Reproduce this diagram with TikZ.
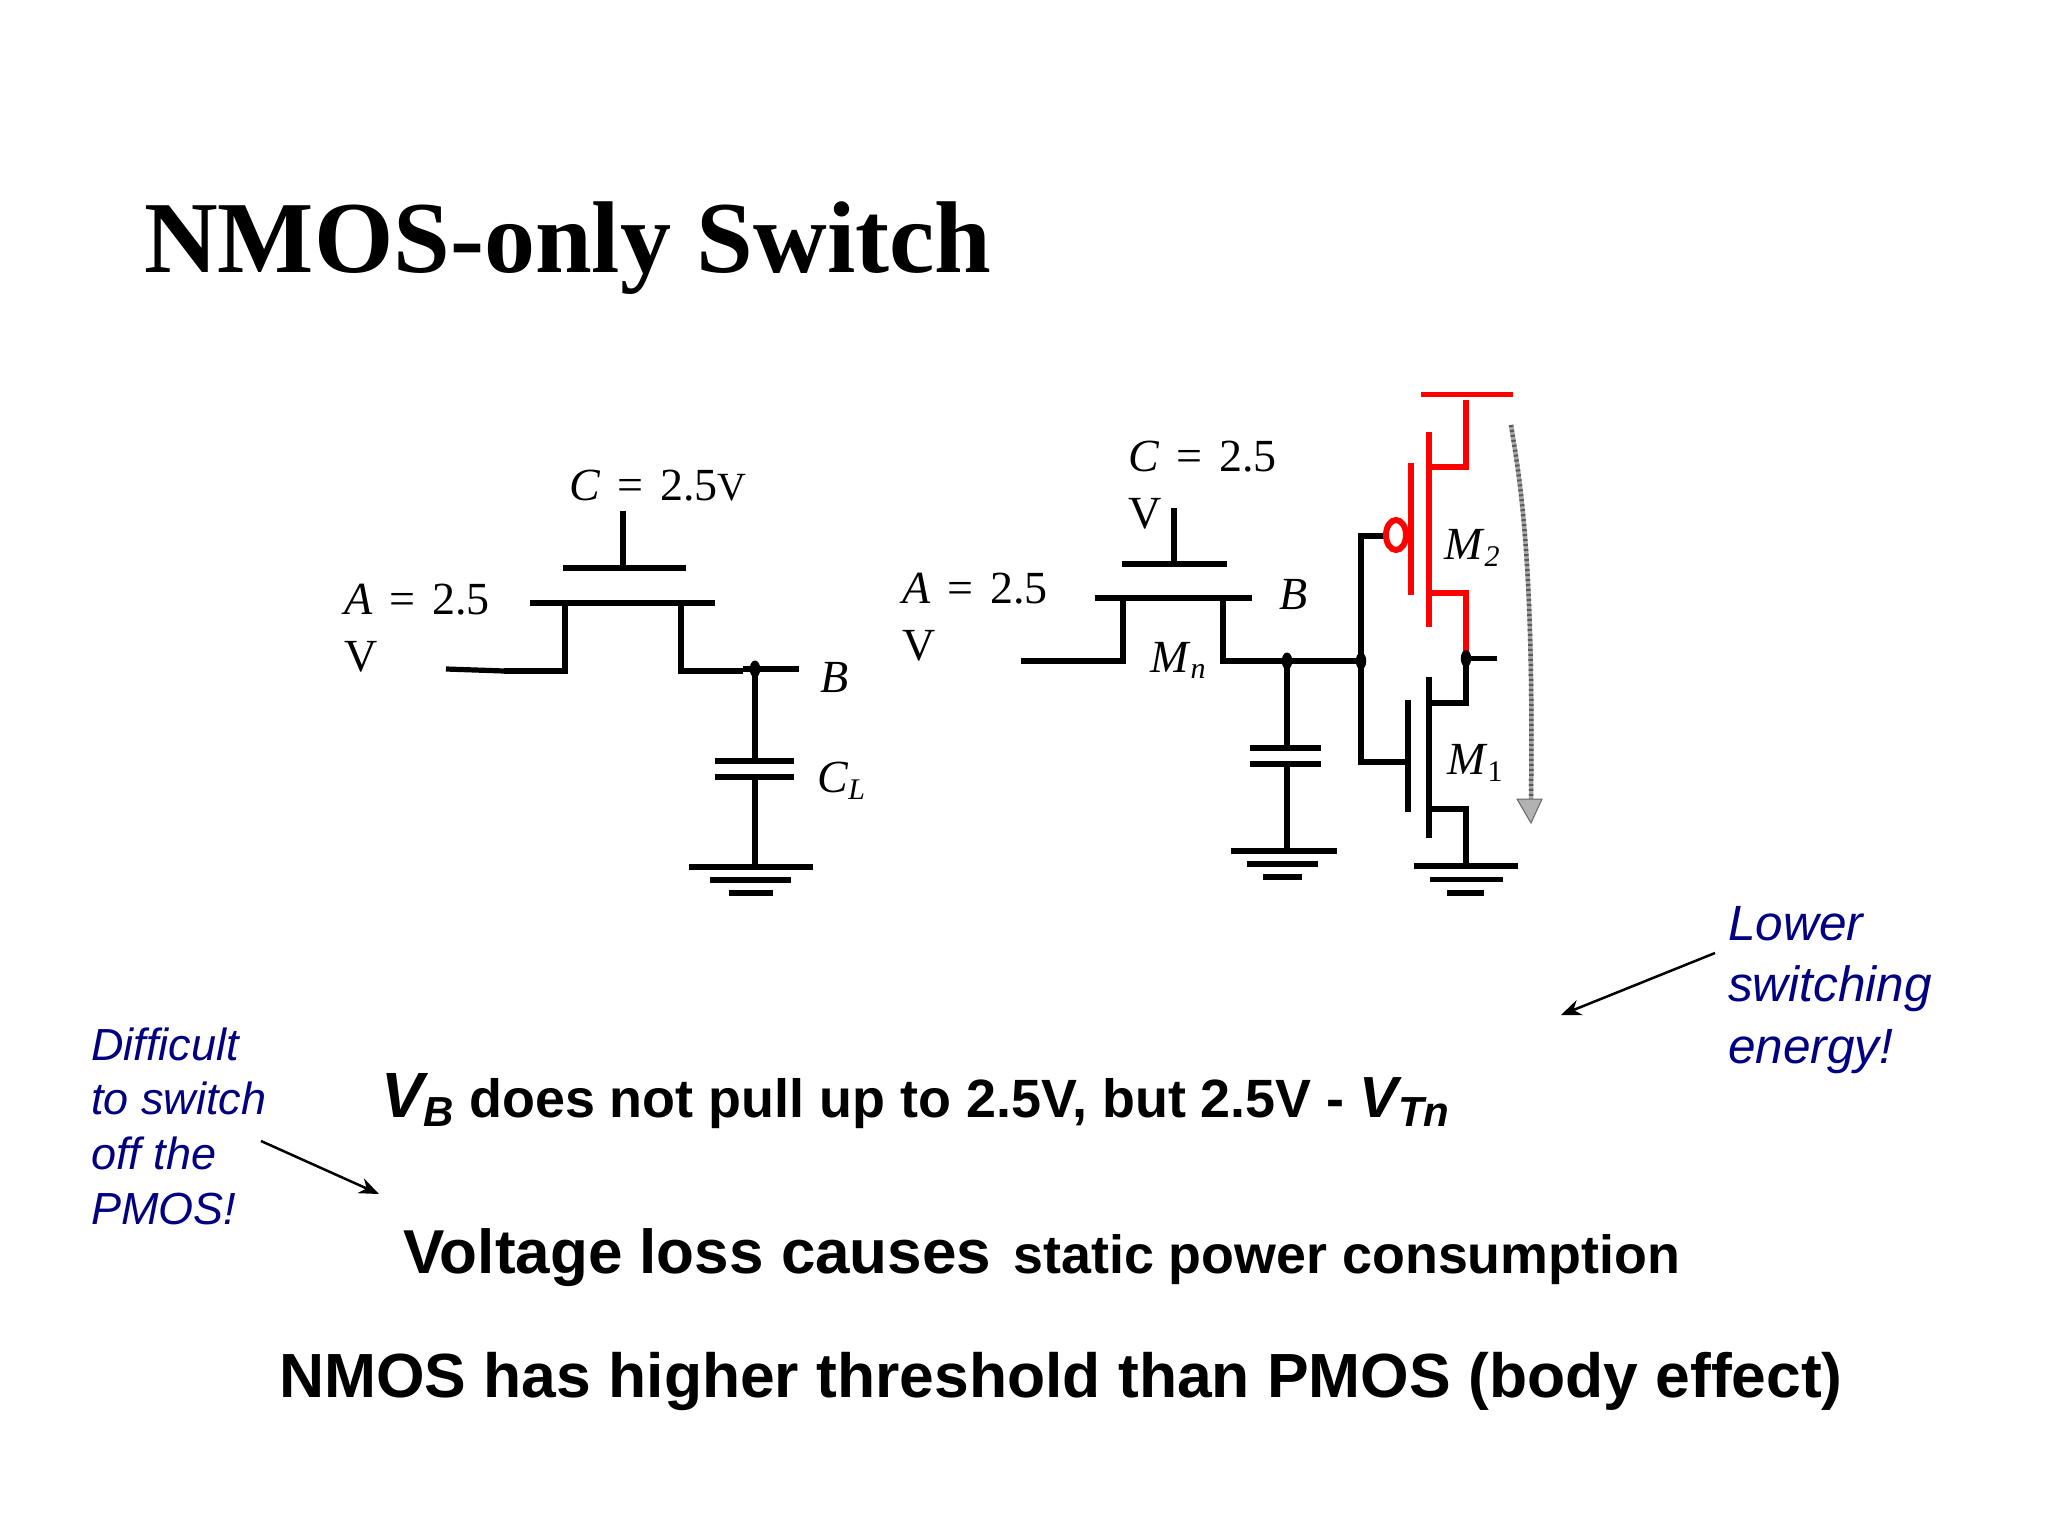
\documentclass[tikz,border=0pt]{standalone}
\usepackage{fontspec}
\setmainfont{Liberation Serif}
\setsansfont{Liberation Sans}
\usetikzlibrary{arrows.meta,shapes.geometric}
\definecolor{navyt}{RGB}{0,0,128}
\definecolor{redw}{RGB}{255,0,0}
\newcommand{\eqsp}{\hspace{17pt}=\hspace{17pt}}
\tikzset{
  wire/.style={line width=5.2pt,black,line cap=butt,line join=miter},
  rwire/.style={line width=5.6pt,redw,line cap=butt,line join=miter},
  lab/.style={inner sep=0pt,anchor=base west,font=\fontsize{46}{57}\selectfont,align=left},
  bold/.style={inner sep=0pt,anchor=base west,font=\sffamily\bfseries},
  note/.style={inner sep=0pt,anchor=base west,align=left,text=navyt,font=\sffamily\itshape},
  thinarrow/.style={line width=2.5pt,-{Stealth[length=20pt,width=16pt]}},
  dot/.style={ellipse,fill=black,inner sep=0pt,minimum width=10.5pt,minimum height=17pt},
}
\begin{document}
\begin{tikzpicture}[x=1pt,y=-1pt]
\useasboundingbox (0,0) rectangle (2048,1536);
\fill[white] (0,0) rectangle (2048,1536);
\node[inner sep=0pt,anchor=base west,font=\fontsize{102}{102}\selectfont\bfseries] (title) at (144,272.5) {NMOS-only Switch};

% left circuit
\coordinate (a1) at (446,669); \coordinate (a2) at (504,671); \coordinate (s1) at (565,671);
\coordinate (s2) at (565,603); \coordinate (d2) at (681,603); \coordinate (d1) at (681,671);
\coordinate (b1) at (743,671); \coordinate (b2) at (743,669); \coordinate (b3) at (799,669);
\coordinate (n1) at (755,669);
\draw[wire] (a1) -- (a2);
\draw[wire] (a2) -- (s1) -- (s2);
\draw[wire] (d2) -- (d1) -- (b1);
\draw[wire] (b2) -- (b3);
\draw[wire] (530,603) -- (715,603);
\draw[wire] (563,568) -- (686,568);
\draw[wire] (623,511) -- (623,568);
\node[dot] (nd1) at (n1) {};
\draw[wire] (n1) -- (755,761);
\draw[wire] (715,761) -- (794,761);
\draw[wire] (715,777) -- (794,777);
\draw[wire] (755,777) -- (755,867);
\draw[wire] (689,867) -- (813,867);
\draw[wire] (710,880) -- (791,880);
\draw[wire] (729,893) -- (773,893);
\node[lab] (lc1) at (569,500) {\textit{C}\eqsp 2.5{\fontsize{40}{40}\selectfont V}};
\node[lab] (la1) at (344,671) {\textit{A}\eqsp 2.5\\V};
\node[lab] (lb1) at (820,692) {\textit{B}};
\node[lab] (lcl) at (817,792) {\textit{C}\raisebox{-7pt}{\fontsize{30}{30}\selectfont\textit{L}}};

% right circuit
\coordinate (ra) at (1021,661); \coordinate (rs1) at (1123,661); \coordinate (rs2) at (1123,598);
\coordinate (rd2) at (1223,598); \coordinate (rd1) at (1223,661);
\coordinate (n2) at (1287,661); \coordinate (n3) at (1361,661); \coordinate (n4) at (1466,658.5);
\draw[wire] (ra) -- (rs1) -- (rs2);
\draw[wire] (rd2) -- (rd1) -- (n3);
\draw[wire] (1095,598) -- (1252,598);
\draw[wire] (1122,564) -- (1227,564);
\draw[wire] (1174,508) -- (1174,564);
\node[dot] (nd2) at (n2) {};
\node[dot] (nd3) at (n3) {};
\draw[wire] (n2) -- (1287,748);
\draw[wire] (1250,748) -- (1321,748);
\draw[wire] (1250,764) -- (1321,764);
\draw[wire] (1287,764) -- (1287,851);
\draw[wire] (1231,851) -- (1337,851);
\draw[wire] (1247,864) -- (1318,864);
\draw[wire] (1263,877) -- (1302,877);
% inverter
\draw[wire] (1387,536) -- (1361,536) -- (1361,762) -- (1408,762);
\draw[wire] (1408,700) -- (1408,812);
\draw[wire] (1429,677) -- (1429,838);
\draw[wire] (1429,703) -- (1466,703) -- (n4);
\draw[wire] (1429,809) -- (1466,809) -- (1466,866);
\draw[wire] (n4) -- (1497,658.5);
\draw[wire] (1413.5,866) -- (1518,866);
\draw[wire] (1430,879.5) -- (1503,879.5);
\draw[wire] (1447,893) -- (1484,893);
% pmos
\draw[rwire] (1421,394.5) -- (1513,394.5);
\draw[rwire] (1466,400) -- (1466,467) -- (1429,467);
\draw[rwire] (1429,432) -- (1429,627);
\draw[rwire] (1411,463) -- (1411,595);
\draw[rwire] (1429,593) -- (1466,593) -- (1466,656);
\draw[rwire,line width=6pt] (1396,535) ellipse (10pt and 15pt);
\node[dot] (nd4) at (n4) {};

% current arrow
\coordinate (ga) at (1511,425); \coordinate (gb) at (1531,800);
\draw[line width=4.5pt,gray!70] (ga) .. controls (1520,480) and (1534,560) .. (gb);
\draw[line width=4.5pt,black!65,dash pattern=on 2pt off 3pt] (ga) .. controls (1520,480) and (1534,560) .. (gb);
\fill[gray!60,draw=black!60,line width=1pt] (1517,799) -- (1542,799) -- (1531,823) -- cycle;

\node[lab] (lc2) at (1128,528) {\textit{C}\eqsp 2.5\\V};
\node[lab] (la2) at (902,660) {\textit{A}\eqsp 2.5\\V};
\node[lab] (lb2) at (1279,609) {\textit{B}};
\node[lab] (lmn) at (1150,672) {\textit{M}\raisebox{-6pt}{\fontsize{30}{30}\selectfont\textit{n}}};
\node[lab] (lm2) at (1444,559) {\textit{M}\raisebox{-7pt}{\fontsize{30}{30}\selectfont\textit{2}}};
\node[lab] (lm1) at (1447,774) {\textit{M}\raisebox{-7pt}{\fontsize{30}{30}\selectfont 1}};

% bottom text
\node[bold,font=\sffamily\bfseries\fontsize{53.9}{53.9}\selectfont] (t1) at (381,1117) {\textit{\fontsize{64}{64}\selectfont V\raisebox{-9pt}{\fontsize{42}{42}\selectfont B}} does not pull up to 2.5V, but 2.5V - \textit{\fontsize{58}{58}\selectfont V\raisebox{-9pt}{\fontsize{42}{42}\selectfont Tn}}};
\node[bold,font=\sffamily\bfseries\fontsize{62}{62}\selectfont] (t2) at (403,1273) {Voltage loss causes\hspace{5pt} {\fontsize{53.8}{53.8}\selectfont static power consumption}};
\node[bold,font=\sffamily\bfseries\fontsize{62.4}{62.4}\selectfont] (t3) at (279,1397) {NMOS has higher threshold than PMOS (body effect)};

\node[note,font=\sffamily\itshape\fontsize{49.5}{61.5}\selectfont] (n5) at (1728,1063) {Lower\\switching\\energy!};
\node[note,font=\sffamily\itshape\fontsize{45}{54.8}\selectfont] (n6) at (91,1224.5) {Difficult\\to switch\\off the\\PMOS!};
\coordinate (ar1s) at (1715,953); \coordinate (ar1e) at (1561,1015);
\coordinate (ar2s) at (261,1141); \coordinate (ar2e) at (379,1194);
\draw[thinarrow] (ar1s) -- (ar1e);
\draw[thinarrow] (ar2s) -- (ar2e);
\end{tikzpicture}
\end{document}
